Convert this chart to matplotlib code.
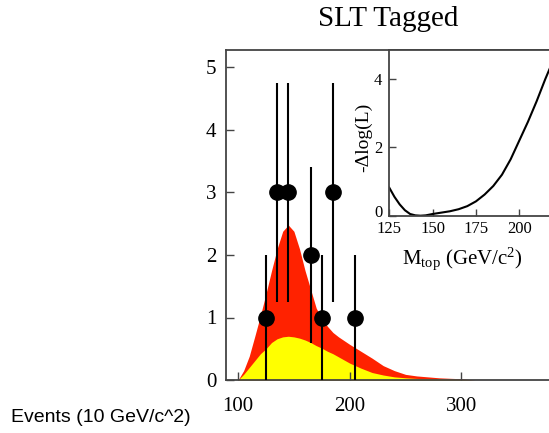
import numpy as np
import matplotlib
matplotlib.use("Agg")
import matplotlib.pyplot as plt
import matplotlib.transforms as mtransforms

plt.rcParams["font.family"] = ["Liberation Serif", "DejaVu Serif"]
plt.rcParams["mathtext.fontset"] = "custom"
plt.rcParams["mathtext.rm"] = "Liberation Serif"
plt.rcParams["mathtext.it"] = "Liberation Serif:italic"

# expected events: total (red) and background (yellow)
mass = [100, 105, 110, 115, 120, 125, 130, 135, 140, 145, 150, 155, 160, 165,
        170, 175, 180, 185, 190, 200, 210, 220, 230, 240, 250, 260, 270, 280,
        290, 300, 312]
total = [0.0, 0.15, 0.38, 0.70, 1.03, 1.38, 1.75, 2.10, 2.38, 2.48, 2.38, 2.10,
         1.75, 1.45, 1.15, 0.98, 0.86, 0.76, 0.69, 0.57, 0.46, 0.35, 0.23, 0.15,
         0.09, 0.065, 0.05, 0.035, 0.027, 0.02, 0.0]
background = [0.0, 0.09, 0.20, 0.31, 0.42, 0.50, 0.60, 0.66, 0.69, 0.70, 0.69,
              0.67, 0.64, 0.60, 0.55, 0.51, 0.46, 0.42, 0.37, 0.27, 0.19, 0.12,
              0.08, 0.05, 0.035, 0.025, 0.02, 0.018, 0.015, 0.01, 0.0]

# data points with asymmetric errors
data_x = [125, 135, 145, 165, 175, 185, 205]
data_y = [1, 3, 3, 2, 1, 3, 1]
err_lo = [1.0, 1.75, 1.75, 1.41, 1.0, 1.75, 1.0]
err_hi = [1.0, 1.75, 1.75, 1.41, 1.0, 1.75, 1.0]

# likelihood scan
m_top = [125, 128, 131, 134, 137, 140, 143, 146, 150, 155, 160, 165, 170, 175,
         180, 185, 190, 195, 200, 205, 210, 215, 220]
dlogl = [0.82, 0.55, 0.33, 0.16, 0.05, 0.01, 0.0, 0.01, 0.05, 0.09, 0.13, 0.19,
         0.28, 0.42, 0.62, 0.87, 1.2, 1.65, 2.2, 2.75, 3.35, 4.0, 4.6]

W, H = 549, 433
fig = plt.figure(figsize=(W / 100, H / 100), dpi=100)

spine_col = "#444444"

ax = fig.add_axes([226 / W, 53 / H, 347 / W, 330 / H])
ax.fill_between(mass, 0, total, color="#ff2200", linewidth=0, zorder=1)
ax.fill_between(mass, 0, background, color="#ffff00", linewidth=0, zorder=1.1)
ax.errorbar(data_x, data_y, yerr=[err_lo, err_hi], fmt="o", color="black",
            ms=11, elinewidth=1.5, capsize=0, zorder=3)
ax.set_xlim(89.2, 400)
ax.set_ylim(0, 5.28)
ax.set_xticks([100, 200, 300])
ax.set_yticks([0, 1, 2, 3, 4, 5])
ax.tick_params(direction="in", length=6, width=1, color=spine_col,
               labelsize=15)
ax.tick_params(axis="x", pad=12)
ax.tick_params(axis="y", pad=7)
for s in ax.spines.values():
    s.set_color(spine_col)
    s.set_linewidth(1.3)

axin = fig.add_axes([389.3 / W, (H - 215.7) / H, 182 / W, 165.7 / H])
axin.plot(m_top, dlogl, color="black", linewidth=1.5)
axin.set_xlim(125, 230)
axin.set_ylim(0, 4.85)
axin.set_xticks([125, 150, 175, 200])
axin.set_yticks([0, 2, 4])
axin.tick_params(direction="in", length=5, width=1, color=spine_col,
                 labelsize=12)
axin.tick_params(axis="x", pad=4)
axin.tick_params(axis="y", pad=5)
for s in axin.spines.values():
    s.set_color(spine_col)
    s.set_linewidth(1.3)
# lift the "0" label a little so it clears "125", as in the original
zero_lbl = axin.get_yticklabels()[0]
zero_lbl.set_transform(zero_lbl.get_transform() +
                       mtransforms.ScaledTranslation(0, 5 / 100,
                                                     fig.dpi_scale_trans))
axin.set_xlabel(r"$\mathrm{M_{top}}$ (GeV/c$^2$)", fontsize=15)
axin.xaxis.set_label_coords(0.40, -0.26)
axin.xaxis.label.set_verticalalignment("center")
axin.set_ylabel("-Δlog(L)", fontsize=14)
axin.yaxis.set_label_coords(-0.14, 0.475)
axin.yaxis.label.set_verticalalignment("center")

fig.text(388 / W, 1 - 19 / H, "SLT Tagged", ha="center", va="center",
         fontsize=21)
fig.text(11 / W, 1 - 417 / H, "Events (10 GeV/c^2)", ha="left", va="center",
         fontsize=14, family=["Liberation Sans", "DejaVu Sans"])

fig.savefig("out.png", dpi=100)
